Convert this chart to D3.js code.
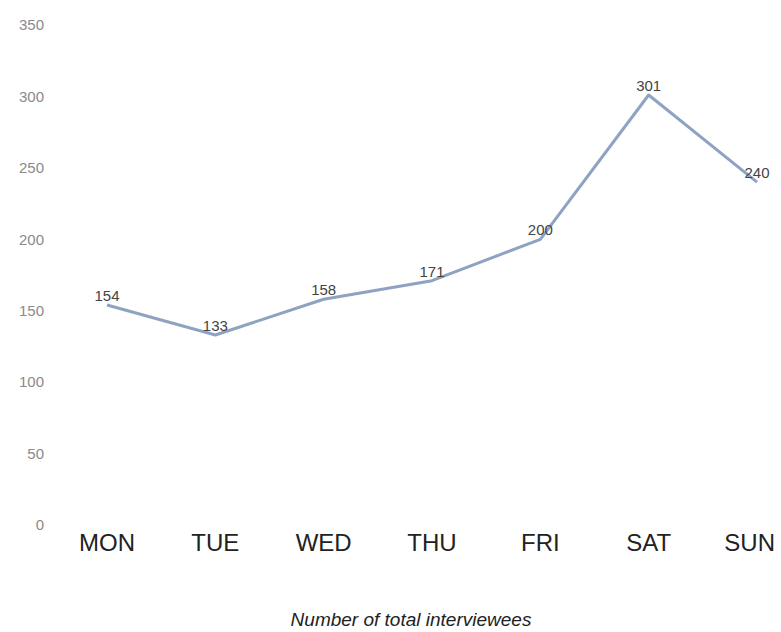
<!DOCTYPE html>
<html>
<head>
<meta charset="utf-8">
<title>Interviewees per day</title>
<style>
  body { margin: 0; background: #fff; }
  svg { display: block; font-family: "Liberation Sans", Arial, sans-serif; }
</style>
</head>
<body>
<script src="https://d3js.org/d3.v7.min.js"></script>
<script>

var days = ["MON", "TUE", "WED", "THU", "FRI", "SAT", "SUN"];
var interviewees = [154, 133, 158, 171, 200, 301, 240];
var yTicks = [0, 50, 100, 150, 200, 250, 300, 350];
var xTitle = "Number of total interviewees";

var width = 781, height = 632;

var svg = d3.select("body")
    .append("svg")
    .attr("width", width)
    .attr("height", height);

var x = d3.scalePoint()
    .domain(days)
    .range([107, 757]);

var y = d3.scaleLinear()
    .domain([0, 350])
    .range([525, 25]);

// y axis: labels only, no lines
var yAxis = svg.append("g")
    .attr("transform", "translate(48,0)")
    .call(d3.axisLeft(y).tickValues(yTicks).tickSize(0).tickPadding(4));
yAxis.select(".domain").remove();
yAxis.selectAll("text")
    .attr("fill", "#8a8a8a")
    .style("font-size", "15px");

// line
var line = d3.line()
    .x(function(d, i){ return x(days[i]); })
    .y(function(d){ return y(d); });

svg.append("path")
    .datum(interviewees)
    .attr("d", line)
    .attr("fill", "none")
    .attr("stroke", "#8ea3c2")
    .attr("stroke-width", 3)
    .attr("stroke-linejoin", "round");

// value labels
svg.selectAll(".val")
    .data(interviewees)
    .enter()
    .append("text")
    .attr("class", "val")
    .attr("x", function(d, i){ return x(days[i]); })
    .attr("y", function(d){ return y(d) - 4; })
    .attr("text-anchor", "middle")
    .attr("fill", "#444")
    .style("font-size", "15px")
    .text(function(d){ return d; });

// day labels
var dayLabels = svg.selectAll(".day")
    .data(days)
    .enter()
    .append("text")
    .attr("class", "day")
    .attr("y", 551)
    .attr("text-anchor", "middle")
    .attr("fill", "#222")
    .style("font-size", "24px")
    .text(function(d){ return d; });

// keep labels inside the page
dayLabels.attr("x", function(d){
    var w = this.getComputedTextLength();
    return Math.min(x(d), width - w / 2 - 6);
});

svg.append("text")
    .attr("x", 411)
    .attr("y", 626)
    .attr("text-anchor", "middle")
    .attr("fill", "#222")
    .style("font-size", "19px")
    .style("font-style", "italic")
    .text(xTitle);

</script>
</body>
</html>
